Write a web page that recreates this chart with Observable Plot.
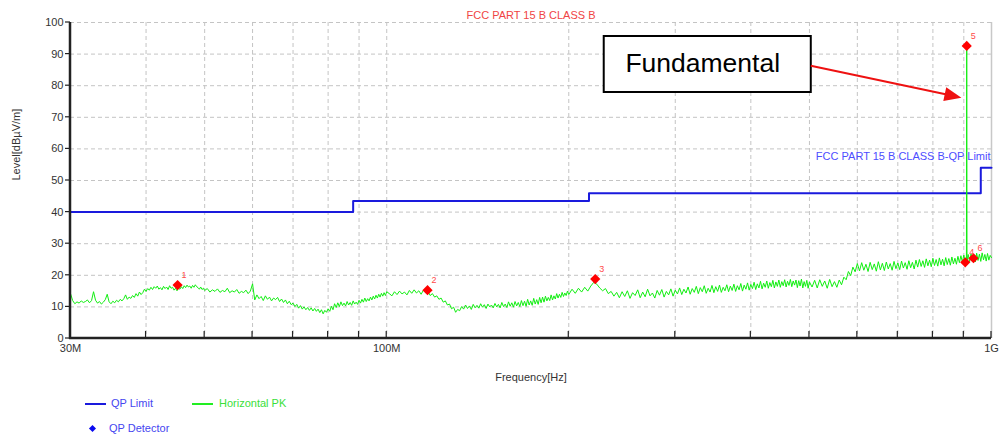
<!DOCTYPE html>
<html>
<head>
<meta charset="utf-8">
<script src="https://cdn.jsdelivr.net/npm/d3@7"></script>
<script src="https://cdn.jsdelivr.net/npm/@observablehq/plot@0.6"></script>
<style>
  body { margin: 0; background: #fff; font-family: "Liberation Sans", Arial, sans-serif; }
  #legend { position: relative; width: 1001px; height: 48px; font-size: 11px; line-height: 12px; }
  #legend span { position: absolute; white-space: nowrap; }
</style>
</head>
<body>
<div id="chart"></div>
<div id="legend">
  <span style="left:85px;top:13px;width:21px;height:2px;background:#1a1add"></span>
  <span style="left:111px;top:6.5px;color:#4646f0">QP Limit</span>
  <span style="left:192px;top:13px;width:21px;height:2px;background:#22ee22"></span>
  <span style="left:219px;top:6.5px;color:#3ae03a">Horizontal PK</span>
  <span style="left:90px;top:35.5px;width:5px;height:5px;background:#0a0af0;transform:rotate(45deg)"></span>
  <span style="left:109px;top:31.5px;color:#4646f0">QP Detector</span>
</div>
<script>
// ---------- text ----------
const chartTitle = "FCC PART 15 B CLASS B";
const limitName = "FCC PART 15 B CLASS B-QP Limit";
const xTitle = "Frequency[Hz]";
const yTitle = "Level[dBµV/m]";
const noteText = "Fundamental";

// ---------- QP limit (MHz, dBµV/m), step-after ----------
const limitFreq = [30, 88, 216, 960, 1000];
const limitLevel = [40, 43.5, 46, 54, 54];

// ---------- Horizontal PK trace: [MHz, dBµV/m] ----------
const pkTrace = [
  [30,14.2],[30.25,12.0],[30.5,11.0],[30.75,11.6],[31,11.2],[31.25,11.9],[31.5,11.4],[31.75,11.7],[32,12.2],[32.25,11.3],
  [32.5,12.0],[32.75,14.8],[33,12.1],[33.25,11.2],[33.5,11.7],[33.75,10.9],[34,11.5],[34.25,12.3],[34.5,14.0],[34.75,11.6],
  [35,11.0],[35.25,11.8],[35.5,11.3],[35.75,12.1],[36,11.6],[36.25,12.4],[36.5,11.9],[36.75,12.6],[37,13.8],[37.25,12.4],
  [37.5,13.1],[37.75,12.7],[38,13.6],[38.25,13.0],[38.5,14.2],[38.75,13.4],[39,14.7],[39.25,13.9],[39.5,14.5],[39.75,15.6],
  [40,14.9],[40.25,15.8],[40.5,15.3],[40.75,16.2],[41,15.5],[41.25,16.4],[41.5,15.9],[41.75,16.6],[42,15.6],[42.25,16.1],
  [42.5,15.4],[42.75,16.5],[43,15.8],[43.25,16.3],[43.5,15.5],[43.75,16.7],[44,15.9],[44.25,16.2],[44.5,15.3],[44.75,15.9],
  [45,15.1],[45.25,16.0],[45.5,15.6],[45.75,16.4],[46,15.8],[46.25,16.7],[46.5,16.1],[46.75,16.9],[47,16.3],[47.25,16.6],
  [47.5,15.9],[47.75,16.8],[48,16.2],[48.25,17.0],[48.5,16.4],[48.75,16.1],[49,15.6],[49.25,16.3],[49.5,15.5],[49.75,15.9],
  [50,15.2],
  [50.5,15.8],[51,14.7],[51.5,15.4],[52,14.9],[52.5,15.7],[53,14.6],[53.5,15.2],[54,14.8],[54.5,15.9],[55,14.5],
  [55.5,15.1],[56,14.7],[56.5,15.5],[57,14.3],[57.5,14.9],[58,14.5],[58.5,15.3],[59,14.2],[59.5,15.0],[60,17.3],
  [60.5,12.2],[61,13.8],[61.5,12.6],[62,13.3],[62.5,12.0],[63,13.5],[63.5,12.4],[64,13.1],[64.5,11.9],[65,12.8],
  [65.5,12.3],[66,13.0],[66.5,11.7],[67,12.5],[67.5,11.4],[68,12.2],[68.5,11.0],[69,11.8],[69.5,10.7],[70,11.2],
  [70.5,10.1],[71,10.8],[71.5,9.6],[72,10.4],[72.5,9.3],[73,10.0],[73.5,9.1],[74,9.8],[74.5,8.9],[75,9.7],
  [75.5,8.7],[76,9.5],[76.5,8.6],[77,9.3],[77.5,8.2],[78,9.1],[78.5,7.8],[79,8.9],[79.5,8.3],[80,9.4],
  [80.5,8.6],[81,10.2],[81.5,9.1],[82,11.0],[82.5,9.8],[83,11.3],[83.5,10.1],[84,11.6],[84.5,10.4],[85,11.2],
  [85.5,10.3],[86,11.7],[86.5,10.6],[87,11.4],[87.5,10.5],[88,11.9],[88.5,10.9],[89,11.5],[89.5,10.8],[90,12.1],
  [90.5,11.2],[91,12.4],[91.5,11.5],[92,12.8],[92.5,11.7],[93,12.6],[93.5,11.9],[94,13.1],[94.5,12.2],[95,13.4],
  [95.5,12.5],[96,13.7],[96.5,12.8],[97,14.0],[97.5,13.1],[98,14.3],[98.5,13.4],[99,14.5],[99.5,13.6],[100,14.8],
  [101,14.2],[102,13.5],[103,14.8],[104,13.9],[105,15.0],[106,14.1],[107,14.7],[108,13.8],[109,15.2],[110,14.3],
  [111,15.4],[112,14.4],[113,15.1],[114,14.0],[115,15.3],[116,14.6],[117,14.9],[118,13.6],[119,14.2],[120,13.1],
  [121,13.5],[122,12.4],[123,12.8],[124,11.5],[125,11.9],[126,10.6],[127,10.9],[128,9.4],[129,9.9],[130,8.3],
  [131,9.2],[132,8.8],[133,10.1],[134,9.3],[135,10.6],[136,9.5],[137,10.3],[138,9.2],[139,10.8],[140,9.7],
  [141,10.5],[142,9.6],[143,11.0],[144,9.9],[145,10.7],[146,9.5],[147,10.9],[148,10.0],[149,10.6],[150,9.7],
  [151,11.1],[152,10.0],[153,10.8],[154,9.7],[155,11.4],[156,10.1],[157,10.9],[158,9.8],[159,11.6],[160,10.2],
  [161,11.3],[162,9.9],[163,11.7],[164,10.3],[165,11.4],[166,10.1],[167,12.0],[168,10.4],[169,11.8],[170,10.2],
  [171,12.4],[172,10.6],[173,11.9],[174,10.5],[175,12.7],[176,10.9],[177,12.3],[178,10.8],[179,13.0],[180,11.3],
  [181,13.1],[182,11.5],[183,13.4],[184,11.9],[185,13.0],[186,12.0],[187,13.8],[188,12.2],[189,13.5],[190,12.5],
  [191,14.2],[192,12.8],[193,14.0],[194,13.0],[195,14.6],[196,13.3],[197,14.4],[198,13.6],[199,15.0],[200,13.9],
  [202.5,15.6],[205,14.3],[207.5,15.9],[210,14.7],[212.5,16.2],[215,15.0],[217.5,16.6],[220,17.8],[222.5,17.2],[225,16.0],
  [227.5,15.1],[230,15.8],[232.5,14.2],[235,14.9],[237.5,13.4],[240,14.6],[242.5,12.9],[245,14.8],[247.5,13.3],[250,15.1],
  [252.5,12.7],[255,14.5],[257.5,13.6],[260,15.4],[262.5,12.9],[265,14.7],[267.5,13.2],[270,15.6],[272.5,13.5],[275,14.4],
  [277.5,12.8],[280,15.2],[282.5,13.7],[285,15.5],[287.5,13.1],[290,14.9],[292.5,13.8],[295,15.7],[297.5,13.4],[300,15.3],
  [302.5,14.1],[305,16.0],[307.5,13.9],[310,15.6],[312.5,14.4],[315,16.3],[317.5,14.0],[320,15.8],[322.5,14.6],[325,16.5],
  [327.5,14.2],[330,16.1],[332.5,14.8],[335,16.7],[337.5,14.3],[340,15.9],[342.5,14.7],[345,16.8],[347.5,14.5],[350,16.4],
  [352.5,14.9],[355,16.9],[357.5,14.6],[360,16.2],[362.5,15.1],[365,17.0],[367.5,14.8],[370,16.6],[372.5,15.2],[375,17.2],
  [377.5,14.9],[380,16.7],[382.5,15.4],[385,17.4],[387.5,15.0],[390,16.9],[392.5,15.6],[395,17.6],[397.5,15.3],[400,17.1],
  [402.5,15.8],[405,17.8],[407.5,15.5],[410,17.3],[412.5,16.0],[415,18.1],[417.5,15.7],[420,17.5],[422.5,16.2],[425,18.2],
  [427.5,15.9],[430,17.7],[432.5,16.4],[435,18.4],[437.5,16.0],[440,17.9],[442.5,16.5],[445,18.5],[447.5,16.2],[450,18.0],
  [452.5,16.7],[455,18.6],[457.5,16.3],[460,18.1],[462.5,16.8],[465,18.7],[467.5,16.4],[470,18.2],[472.5,16.9],[475,18.5],
  [477.5,16.1],[480,18.3],[482.5,16.6],[485,18.8],[487.5,16.0],[490,18.0],[492.5,16.5],[495,18.4],[497.5,15.9],[500,17.9],
  [505,16.3],[510,18.4],[515,16.0],[520,18.6],[525,16.5],[530,18.2],[535,15.9],[540,18.7],[545,16.4],[550,18.0],
  [555,16.2],[560,18.5],[565,17.0],[570,19.4],[575,18.6],[580,21.2],[585,19.9],[590,22.6],[595,21.1],[600,23.7],
  [605,21.4],[610,24.0],[615,21.6],[620,23.5],[625,21.2],[630,24.1],[635,21.8],[640,23.6],[645,21.3],[650,24.3],
  [655,21.7],[660,23.8],[665,21.5],[670,24.2],[675,22.0],[680,23.7],[685,21.6],[690,24.4],[695,22.1],[700,23.9],
  [705,21.8],[710,24.5],[715,22.3],[720,24.0],[725,21.9],[730,24.6],[735,22.4],[740,24.1],[745,22.0],[750,24.8],
  [755,22.6],[760,25.0],[765,22.8],[770,24.6],[775,22.5],[780,25.2],[785,23.0],[790,24.8],[795,22.7],[800,25.4],
  [805,23.1],[810,25.0],[815,22.9],[820,25.5],[825,23.3],[830,25.1],[835,23.0],[840,25.6],[845,23.4],[850,25.3],
  [855,23.2],[860,25.8],[865,23.6],[870,25.4],[875,23.5],[880,26.0],[885,24.0],[890,26.2],[895,24.2],[900,26.4],
  [905,24.1],[909,24.8],[910,92.7],[911,24.5],[915,26.6],[920,24.3],[925,26.8],[930,24.6],[935,26.5],[940,24.2],
  [945,27.0],[950,24.7],[955,26.7],[960,24.4],[965,27.1],[970,24.9],[975,26.6],[980,24.5],[985,26.9],[990,24.8],
  [995,26.3],[1000,25.6]
];

// ---------- QP detector markers ----------
const markerIds = ["1", "2", "3", "4", "5", "6"];
const markerFreq = [45.1, 116.8, 221.2, 904.9, 910, 933.6];
const markerLevel = [16.9, 15.3, 18.8, 24.1, 92.6, 25.4];

// ---------- axes ----------
const yTicks = [0, 10, 20, 30, 40, 50, 60, 70, 80, 90, 100];
const xGrid = [40, 50, 60, 70, 80, 90, 100, 200, 300, 400, 500, 600, 700, 800, 900];
const xTickMarks = [30, 40, 50, 60, 70, 80, 90, 100, 200, 300, 400, 500, 600, 700, 800, 900, 1000];
const xLabelVals = [30, 100, 1000];
const xLabels = ["30M", "100M", "1G"];

// ---------- annotation (data units) ----------
const noteBoxFreq = [228.9, 503.5];
const noteBoxLevel = [77.85, 95.57];
const noteTextAt = [248.1, 86.96];
const noteArrowFrom = [503.5, 86.17];
const noteArrowTo = [893.4, 76.04];
const limitLabelAt = [1000, 57.5];

const pk = pkTrace.map(([f, v]) => ({f, v}));
const lim = limitFreq.map((f, i) => ({f, v: limitLevel[i]}));
const markers = markerIds.map((id, i) => ({id, f: markerFreq[i], v: markerLevel[i]}));

const font = "Liberation Sans, Arial, sans-serif";

function axisDecor(index, scales) {
  const {x, y} = scales;
  const g = d3.create("svg:g").attr("fill", "none").attr("stroke", "#222");
  for (const v of yTicks) {
    g.append("line").attr("x1", x(30) - 5).attr("x2", x(30)).attr("y1", y(v)).attr("y2", y(v)).attr("stroke-width", 1.2);
  }
  for (const v of xTickMarks) {
    g.append("line").attr("x1", x(v)).attr("x2", x(v)).attr("y1", y(0)).attr("y2", y(0) - 7).attr("stroke-width", 1.2);
  }
  g.append("line").attr("x1", x(30)).attr("x2", x(30)).attr("y1", y(100)).attr("y2", y(0) + 1).attr("stroke-width", 2.5);
  g.append("line").attr("x1", x(30) - 1).attr("x2", x(1000)).attr("y1", y(0)).attr("y2", y(0)).attr("stroke-width", 2.5);
  return g.node();
}

function noteArrow(index, scales) {
  const {x, y} = scales;
  const x0 = x(noteArrowFrom[0]), y0 = y(noteArrowFrom[1]);
  const x1 = x(noteArrowTo[0]), y1 = y(noteArrowTo[1]);
  const dx = x1 - x0, dy = y1 - y0, len = Math.hypot(dx, dy);
  const ux = dx / len, uy = dy / len;
  const hl = 17, hw = 7;
  const bx = x1 - ux * hl, by = y1 - uy * hl;
  const g = d3.create("svg:g");
  g.append("line").attr("x1", x0).attr("y1", y0).attr("x2", bx + ux * 2).attr("y2", by + uy * 2)
    .attr("stroke", "#ee1111").attr("stroke-width", 2);
  g.append("polygon")
    .attr("points", [[x1, y1], [bx - uy * hw, by + ux * hw], [bx + uy * hw, by - ux * hw]].map(p => p.join(",")).join(" "))
    .attr("fill", "#ee1111");
  return g.node();
}

const chart = Plot.plot({
  width: 1001,
  height: 390,
  marginLeft: 70,
  marginRight: 10,
  marginTop: 22,
  marginBottom: 52,
  style: {fontFamily: font, fontSize: "11px", background: "white", overflow: "visible"},
  x: {type: "log", domain: [30, 1000], axis: null},
  y: {domain: [0, 100], axis: null},
  marks: [
    Plot.ruleY(yTicks.slice(1), {stroke: "#c4c4c4", strokeDasharray: "4,3"}),
    Plot.ruleX(xGrid, {stroke: "#c4c4c4", strokeDasharray: "4,3"}),
    Plot.ruleX([1000], {stroke: "#c8c8c8", strokeWidth: 1.5}),
    Plot.line(lim, {x: "f", y: "v", curve: "step-after", stroke: "#1a1add", strokeWidth: 2}),
    Plot.line(pk, {x: "f", y: "v", stroke: "#11ee11", strokeWidth: 1}),
    Plot.dot(markers, {x: "f", y: "v", symbol: "diamond2", r: 4.6, fill: "#ff0000", stroke: "none"}),
    Plot.text(markers, {x: "f", y: "v", text: "id", dx: 4, dy: -10, fontSize: 9, fill: "#ff4a4a", textAnchor: "start"}),
    axisDecor,
    Plot.text(yTicks, {x: 30, y: d => d, text: d => String(d), textAnchor: "end", dx: -7, dy: 0, fill: "#333", fontSize: 11}),
    Plot.text(xLabelVals, {x: d => d, y: 0, text: (d, i) => xLabels[i], textAnchor: "middle", dy: 10, fill: "#333", fontSize: 11}),
    Plot.text([xTitle], {frameAnchor: "bottom", lineAnchor: "middle", dy: 38.5, text: d => d, fill: "#333", fontSize: 11}),
    Plot.text([yTitle], {frameAnchor: "left", lineAnchor: "middle", dx: -54, rotate: -90, text: d => d, fill: "#333", fontSize: 11}),
    Plot.text([chartTitle], {frameAnchor: "top", lineAnchor: "middle", dy: -7, text: d => d, fill: "#f04444", fontSize: 11}),
    Plot.text([limitName], {x: limitLabelAt[0], y: limitLabelAt[1], text: d => d, textAnchor: "end", dx: -1, fill: "#4d4dff", fontSize: 11}),
    Plot.rect([0], {x1: noteBoxFreq[0], x2: noteBoxFreq[1], y1: noteBoxLevel[0], y2: noteBoxLevel[1], fill: "white", stroke: "black", strokeWidth: 2}),
    Plot.text([noteText], {x: noteTextAt[0], y: noteTextAt[1], text: d => d, textAnchor: "start", fontSize: 26.5, fill: "black"}),
    noteArrow
  ]
});
document.getElementById("chart").appendChild(chart);
</script>
</body>
</html>
